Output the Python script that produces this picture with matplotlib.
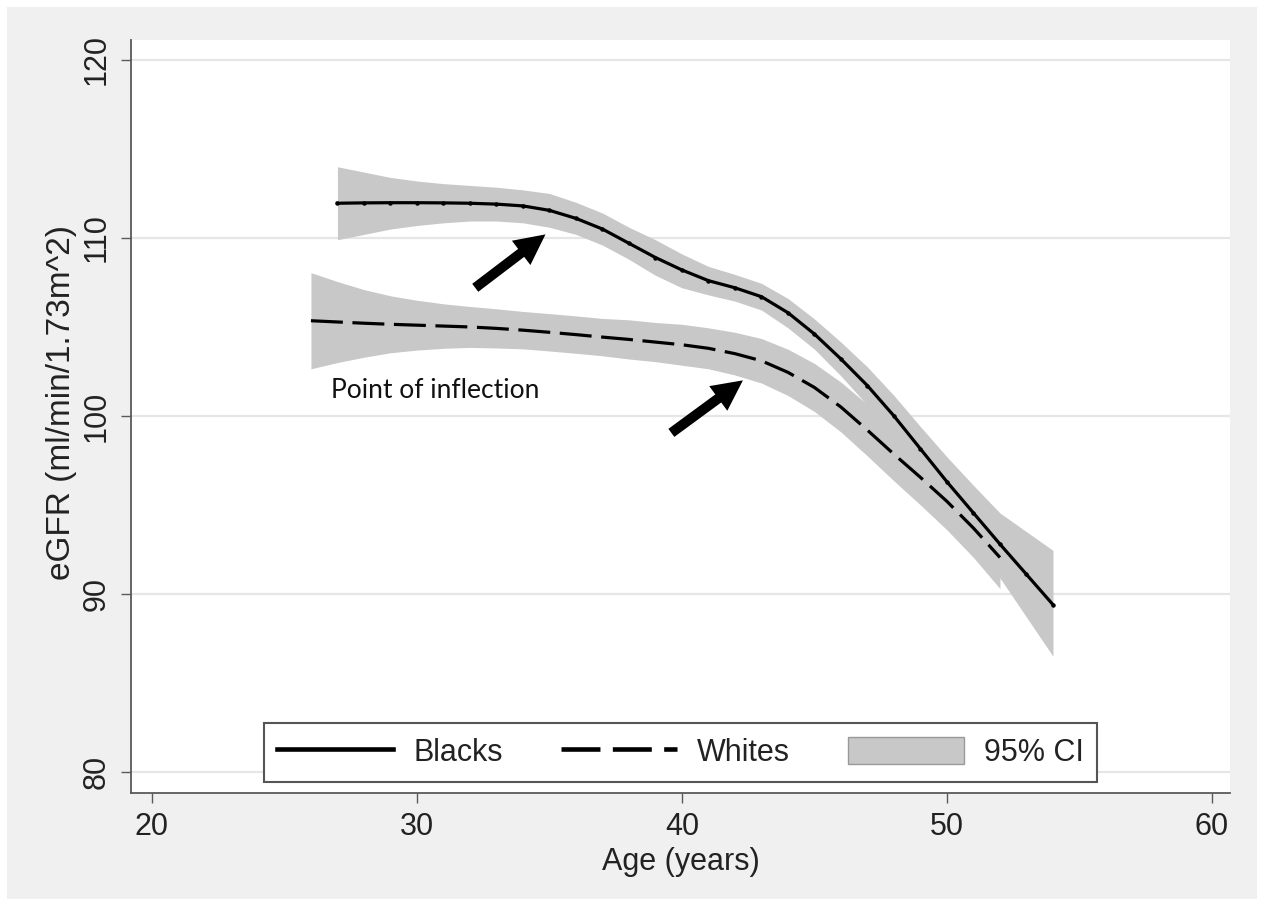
import matplotlib
matplotlib.use('Agg')
import matplotlib.pyplot as plt
from matplotlib.patches import Rectangle, Patch
from matplotlib.lines import Line2D

plt.rcParams['font.family'] = ['Liberation Sans', 'DejaVu Sans']

# ## Data
age_blacks = list(range(27, 55))
egfr_blacks = [111.95, 111.97, 111.98, 111.98, 111.97, 111.95, 111.90, 111.80,
               111.55, 111.10, 110.50, 109.70, 108.90, 108.20, 107.60, 107.20,
               106.70, 105.80, 104.60, 103.20, 101.70, 100.00, 98.15, 96.30,
               94.55, 92.80, 91.10, 89.40]
lo_blacks = [109.90, 110.20, 110.50, 110.70, 110.85, 110.95, 110.95, 110.85,
             110.60, 110.20, 109.60, 108.80, 107.90, 107.20, 106.80, 106.45,
             105.95, 104.95, 103.75, 102.25, 100.60, 98.80, 96.90, 94.90,
             92.90, 90.90, 88.70, 86.50]
hi_blacks = [114.00, 113.70, 113.40, 113.20, 113.05, 112.95, 112.85, 112.70,
             112.50, 112.00, 111.40, 110.60, 109.90, 109.10, 108.40, 107.95,
             107.45, 106.60, 105.45, 104.15, 102.75, 101.15, 99.40, 97.70,
             96.10, 94.55, 93.50, 92.45]

age_whites = list(range(26, 53))
egfr_whites = [105.35, 105.28, 105.21, 105.15, 105.10, 105.05, 105.00, 104.92,
               104.82, 104.70, 104.57, 104.43, 104.30, 104.15, 104.00, 103.80,
               103.50, 103.10, 102.45, 101.60, 100.50, 99.20, 97.85, 96.55,
               95.20, 93.70, 92.05]
lo_whites = [102.65, 103.00, 103.30, 103.55, 103.70, 103.80, 103.85, 103.82,
             103.77, 103.65, 103.52, 103.38, 103.20, 103.05, 102.85, 102.65,
             102.30, 101.85, 101.15, 100.25, 99.10, 97.75, 96.35, 95.00,
             93.60, 92.05, 90.30]
hi_whites = [108.05, 107.55, 107.10, 106.75, 106.50, 106.30, 106.15, 106.02,
             105.87, 105.75, 105.62, 105.48, 105.40, 105.25, 105.15, 104.95,
             104.70, 104.35, 103.75, 102.95, 101.90, 100.65, 99.35, 98.10,
             96.80, 95.35, 93.80]

# arrows: (tail, head) in data units
arrows = [((32.2, 107.2), (34.85, 110.2)),
          ((39.6, 99.05), (42.3, 102.0))]

x_ticks = [20, 30, 40, 50, 60]
y_ticks = [80, 90, 100, 110, 120]

ci_col = '#c8c8c8'
W, H = 1264, 906

fig = plt.figure(figsize=(W / 100, H / 100), dpi=100)
fig.patches.append(Rectangle((7 / W, 7 / H), 1250 / W, 892 / H,
                             transform=fig.transFigure, facecolor='#f0f0f0',
                             edgecolor='none', zorder=-10))
ax = fig.add_axes([131 / W, 1 - 793 / H, 1099 / W, 753 / H])

ax.fill_between(age_blacks, lo_blacks, hi_blacks, color=ci_col, lw=0, zorder=1)
ax.fill_between(age_whites, lo_whites, hi_whites, color=ci_col, lw=0, zorder=1)
ax.plot(age_blacks, egfr_blacks, color='black', lw=2.3, marker='o', ms=2.2,
        zorder=3)
ax.plot(age_whites, egfr_whites, color='black', lw=2.3, dashes=(10, 3),
        zorder=3)

for tail, head in arrows:
    ax.annotate('', xy=head, xytext=tail,
                arrowprops=dict(arrowstyle='simple,head_length=1.1,head_width=1.1,tail_width=0.36',
                                mutation_scale=20, color='black', lw=0,
                                shrinkA=0, shrinkB=0), zorder=4)

ax.text(26.75, 101.45, 'Point of inflection', family=['Lato', 'DejaVu Sans'],
        fontsize=19, ha='left', va='center', color='#111111', zorder=4)

ax.set_xlim(19.21, 60.68)
ax.set_ylim(78.82, 121.12)
ax.set_xticks(x_ticks)
ax.set_yticks(y_ticks)
ax.yaxis.grid(True, color='#e6e6e6', lw=1.6)
ax.set_axisbelow(True)
for s in ['top', 'right']:
    ax.spines[s].set_visible(False)
for s in ['left', 'bottom']:
    ax.spines[s].set_color('#5a5a5a')
    ax.spines[s].set_linewidth(1.3)
ax.tick_params(direction='out', length=7, width=1, color='#5a5a5a',
               labelsize=22, pad=7, labelcolor='#222222')
ax.tick_params(axis='y', labelrotation=90)
plt.setp(ax.get_yticklabels(), va='center')

ax.set_xlabel('Age (years)', fontsize=22, color='#222222', labelpad=3)
ax.set_ylabel('eGFR (ml/min/1.73m^2)', fontsize=24, color='#222222')
ax.yaxis.set_label_coords(-0.049, 0.518)

handles = [Line2D([], [], color='black', lw=3.3),
           Line2D([], [], color='black', lw=3.3, dashes=(8.5, 2.7)),
           Patch(facecolor=ci_col, edgecolor='#999999', lw=1)]
leg = ax.legend(handles, ['Blacks', 'Whites', '95% CI'], ncol=3,
                loc='lower center', bbox_to_anchor=(0.5, 0.0146),
                fontsize=22, frameon=True, fancybox=False, framealpha=1,
                edgecolor='#555555', handlelength=3.8, handleheight=1.0,
                handletextpad=0.65, columnspacing=1.9, borderpad=0.45,
                borderaxespad=0)
leg.get_frame().set_linewidth(1.5)
for t in leg.get_texts():
    t.set_color('#222222')

fig.savefig('out.png', dpi=100)
